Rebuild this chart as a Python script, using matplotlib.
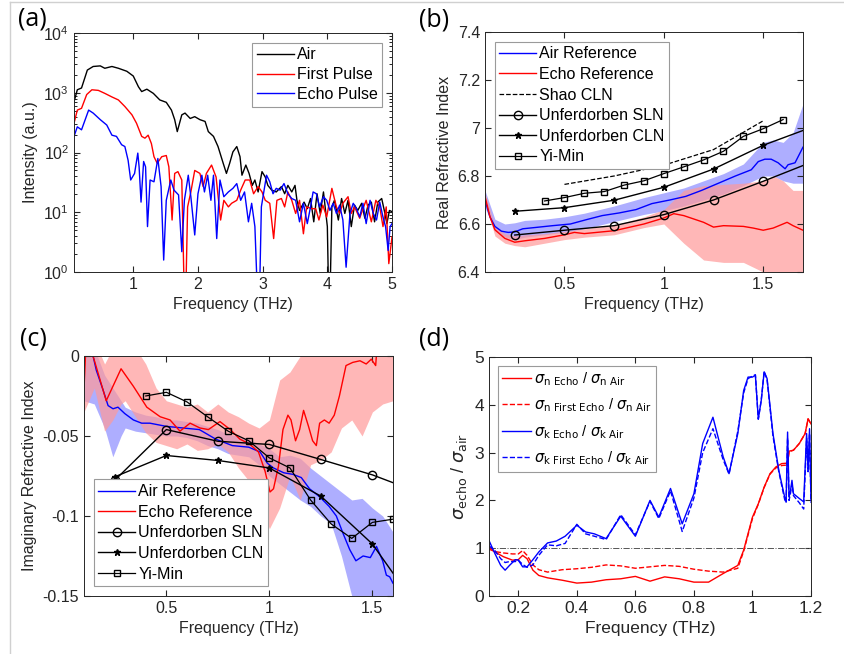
import numpy as np
import matplotlib.pyplot as plt
from matplotlib.lines import Line2D

plt.rcParams['font.family'] = ['Liberation Sans', 'DejaVu Sans']
plt.rcParams['mathtext.fontset'] = 'dejavusans'

# ---------------- (a) spectra, log10 of intensity ----------------
air_f = [0.084, 0.135, 0.2, 0.29, 0.38, 0.49, 0.56, 0.67, 0.77, 0.90, 1.0, 1.08, 1.13, 1.21, 1.31,
         1.41, 1.51, 1.59, 1.64, 1.68, 1.75, 1.80, 1.88, 1.95, 2.03, 2.11, 2.16, 2.24, 2.31, 2.39,
         2.44, 2.49, 2.54, 2.60, 2.65, 2.68, 2.74, 2.79, 2.84, 2.88, 2.93, 2.99, 3.04, 3.08, 3.14,
         3.21, 3.29, 3.34, 3.39, 3.45, 3.50, 3.53, 3.57, 3.64, 3.69, 3.74, 3.79, 3.84, 3.89, 3.94,
         4.00, 4.03, 4.07, 4.11, 4.17, 4.22, 4.27, 4.32, 4.37, 4.42, 4.47, 4.53, 4.58, 4.63, 4.68,
         4.73, 4.78, 4.84, 4.89, 4.92, 4.96, 5.0]
air_log = [2.85, 3.05, 3.08, 3.38, 3.44, 3.45, 3.41, 3.44, 3.41, 3.36, 3.28, 3.10, 3.02, 3.06, 2.99,
           2.88, 2.84, 2.71, 2.55, 2.35, 2.63, 2.66, 2.57, 2.60, 2.55, 2.52, 2.35, 2.27, 2.10, 1.82,
           1.65, 1.82, 2.01, 2.10, 1.93, 1.62, 1.79, 1.65, 1.45, 1.54, 1.34, 1.68, 1.59, 1.45, 1.37,
           1.34, 1.43, 1.31, 1.45, 1.34, 1.45, 1.20, 1.03, 1.17, 1.06, 1.23, 0.84, 1.31, 0.98, 1.34,
           0.76, -1.0, 1.09, 1.20, 0.87, 1.23, 0.98, 1.20, 0.76, 1.12, 1.03, 1.15, 0.90, 1.12, 1.17,
           0.84, 1.17, 1.23, 0.98, 0.81, 1.03, 1.01]

first_f = [0.084, 0.135, 0.2, 0.28, 0.36, 0.46, 0.56, 0.67, 0.77, 0.87, 0.98, 1.05, 1.13, 1.18, 1.23,
           1.28, 1.32, 1.37, 1.44, 1.51, 1.55, 1.60, 1.64, 1.69, 1.75, 1.80, 1.84, 1.89, 1.95, 2.03,
           2.08, 2.13, 2.21, 2.28, 2.35, 2.40, 2.47, 2.52, 2.60, 2.66, 2.73, 2.80, 2.86, 2.93, 2.99,
           3.04, 3.11, 3.17, 3.22, 3.29, 3.34, 3.39, 3.45, 3.51, 3.57, 3.63, 3.68, 3.76, 3.82, 3.87,
           3.93, 3.99, 4.07, 4.14, 4.19, 4.24, 4.32, 4.37, 4.42, 4.50, 4.55, 4.60, 4.68, 4.75, 4.81,
           4.86, 4.91, 4.95, 5.0]
first_log = [2.49, 2.71, 2.74, 2.97, 3.05, 3.04, 2.99, 2.93, 2.88, 2.77, 2.63, 2.49, 2.27, 2.24, 2.29,
             2.15, 1.93, 1.82, 1.93, 1.95, 1.76, 0.87, 1.65, 1.68, 1.54, -1.0, 1.09, 1.34, 1.70, 1.65,
             1.43, 1.65, 1.79, 1.59, 0.87, 1.20, 1.09, 1.15, 1.20, 1.37, 1.54, 1.54, 1.31, 1.43, 1.34,
             1.20, 1.15, 0.56, 1.20, 1.23, 1.09, 1.34, 1.20, 0.98, 1.20, 0.64, 1.09, 1.06, 1.06, 0.87,
             1.12, 0.92, 1.40, 1.09, 0.98, 1.15, 1.26, 0.98, 1.09, 0.90, 1.06, 1.20, 0.84, 1.20, 1.09,
             0.76, 1.09, 0.14, 0.59]

echo_f = [0.084, 0.135, 0.2, 0.31, 0.38, 0.49, 0.59, 0.67, 0.74, 0.82, 0.87, 0.92, 0.96, 1.02, 1.07,
          1.09, 1.12, 1.16, 1.19, 1.22, 1.26, 1.32, 1.38, 1.43, 1.47, 1.51, 1.58, 1.63, 1.70, 1.75,
          1.79, 1.85, 1.89, 1.95, 2.00, 2.06, 2.10, 2.15, 2.20, 2.24, 2.29, 2.34, 2.40, 2.47, 2.54,
          2.60, 2.66, 2.72, 2.78, 2.83, 2.88, 2.94, 2.98, 3.06, 3.11, 3.16, 3.21, 3.27, 3.33, 3.39,
          3.45, 3.51, 3.57, 3.63, 3.69, 3.74, 3.78, 3.83, 3.88, 3.94, 3.99, 4.04, 4.09, 4.14, 4.19,
          4.24, 4.29, 4.35, 4.40, 4.45, 4.50, 4.55, 4.60, 4.66, 4.71, 4.76, 4.81, 4.86, 4.90, 4.94,
          4.97, 5.0]
echo_log = [2.27, 2.43, 2.38, 2.71, 2.66, 2.55, 2.46, 2.29, 2.27, 2.13, 2.10, 1.87, 1.54, 1.65, 1.99,
            1.76, 1.17, 1.85, 1.76, 0.76, 1.54, 1.51, 1.90, 1.43, 0.20, 1.20, 1.54, 1.37, 1.29, 0.34,
            1.20, 1.62, 1.26, 0.62, 1.31, 1.62, 1.34, 1.62, 1.20, 1.62, 0.56, 1.54, 1.26, 1.34, 1.40,
            1.48, 1.20, 1.34, 0.84, 1.15, 0.76, -1.0, 1.09, 1.62, 1.51, 1.31, 1.40, 1.37, 1.48, 1.31,
            1.23, 1.20, 0.84, 1.15, 0.81, 1.09, 1.34, 1.31, 1.09, 1.26, 1.20, 1.03, 1.15, 0.98, 1.12,
            0.87, 0.08, 0.98, 1.15, 1.06, 0.92, 1.15, 0.81, 1.20, 0.98, 0.87, 1.17, 0.92, 0.76, 0.36,
            0.76, 0.81]

# ---------------- (b) real refractive index ----------------
nb_air_f = [0.1, 0.125, 0.15, 0.183, 0.217, 0.25, 0.29, 0.36, 0.44, 0.53, 0.61, 0.69, 0.775, 0.86, 0.94,
            1.03, 1.11, 1.19, 1.275, 1.36, 1.44, 1.475, 1.508, 1.54, 1.575, 1.61, 1.625, 1.66, 1.7]
nb_air = [6.70, 6.63, 6.59, 6.57, 6.565, 6.567, 6.58, 6.586, 6.593, 6.60, 6.618, 6.635, 6.646, 6.66,
          6.685, 6.70, 6.715, 6.74, 6.77, 6.80, 6.826, 6.86, 6.87, 6.87, 6.855, 6.83, 6.847, 6.855, 6.92]
band_b_f = [0.1, 0.15, 0.2, 0.25, 0.3, 0.4, 0.5, 0.6, 0.75, 0.9, 1.0, 1.1, 1.2, 1.3, 1.4, 1.5, 1.55,
            1.6, 1.65, 1.7]
nb_air_hi = [6.74, 6.62, 6.60, 6.605, 6.615, 6.62, 6.63, 6.645, 6.675, 6.71, 6.73, 6.75, 6.78, 6.81,
             6.85, 6.94, 6.95, 6.94, 6.98, 7.10]
nb_air_lo = [6.67, 6.57, 6.545, 6.535, 6.545, 6.555, 6.565, 6.58, 6.61, 6.64, 6.655, 6.675, 6.70,
             6.725, 6.76, 6.80, 6.80, 6.78, 6.77, 6.77]

nb_echo_f = [0.1, 0.125, 0.15, 0.2, 0.25, 0.3, 0.4, 0.5, 0.55, 0.6, 0.75, 0.9, 1.0, 1.05, 1.1, 1.2,
             1.25, 1.3, 1.4, 1.45, 1.5, 1.55, 1.62, 1.65, 1.7]
nb_echo = [6.715, 6.63, 6.576, 6.54, 6.524, 6.53, 6.54, 6.555, 6.565, 6.56, 6.572, 6.60, 6.625, 6.643,
           6.635, 6.607, 6.587, 6.593, 6.59, 6.583, 6.574, 6.583, 6.607, 6.593, 6.574]
nb_echo_hi = [6.73, 6.59, 6.56, 6.55, 6.555, 6.56, 6.57, 6.58, 6.595, 6.63, 6.66, 6.74, 6.76, 6.765,
              6.77, 6.78, 6.80, 6.78, 6.74, 6.74]
nb_echo_lo = [6.69, 6.55, 6.52, 6.51, 6.505, 6.52, 6.535, 6.545, 6.555, 6.585, 6.60, 6.52, 6.45,
              6.44, 6.44, 6.40, 6.39, 6.39, 6.39, 6.39]

shao_f = [0.5, 0.75, 1.0, 1.25, 1.5]
shao_n = [6.765, 6.80, 6.845, 6.91, 7.03]
unf_f = [0.25, 0.5, 0.75, 1.0, 1.25, 1.5, 1.75]
unf_sln_n = [6.554, 6.574, 6.593, 6.639, 6.70, 6.778, 6.86]
unf_cln_n = [6.653, 6.668, 6.699, 6.753, 6.829, 6.928, 7.005]
yimin_f = [0.4, 0.5, 0.6, 0.7, 0.8, 0.9, 1.0, 1.1, 1.2, 1.3, 1.4, 1.5, 1.6]
yimin_n = [6.696, 6.71, 6.728, 6.735, 6.762, 6.78, 6.81, 6.838, 6.867, 6.903, 6.965, 6.997, 7.035]

# ---------------- (c) imaginary refractive index ----------------
kc_air_f = [0.144, 0.16, 0.192, 0.217, 0.241, 0.265, 0.298, 0.34, 0.38, 0.42, 0.50, 0.58, 0.66, 0.74,
            0.82, 0.90, 0.955, 0.99, 1.02, 1.07, 1.115, 1.155, 1.195, 1.244, 1.29, 1.325, 1.358, 1.39,
            1.42, 1.455, 1.49, 1.52, 1.55, 1.568, 1.584, 1.6]
kc_air = [0.0, -0.009, -0.021, -0.031, -0.033, -0.032, -0.036, -0.040, -0.042, -0.042, -0.044, -0.045,
          -0.046, -0.052, -0.056, -0.057, -0.060, -0.067, -0.070, -0.073, -0.074, -0.076, -0.083,
          -0.088, -0.094, -0.100, -0.111, -0.121, -0.128, -0.125, -0.126, -0.119, -0.128, -0.137,
          -0.138, -0.142]
band_c_f = [0.1, 0.15, 0.2, 0.24, 0.28, 0.3, 0.35, 0.4, 0.45, 0.5, 0.55, 0.6, 0.65, 0.7, 0.75, 0.8,
            0.85, 0.9, 0.95, 1.0, 1.05, 1.1, 1.15, 1.2, 1.25, 1.3, 1.35, 1.4, 1.45, 1.5, 1.55, 1.6]
kc_air_hi = [0.01, 0.005, -0.012, -0.02, -0.028, -0.032, -0.035, -0.037, -0.038, -0.040, -0.040,
             -0.041, -0.042, -0.044, -0.046, -0.049, -0.050, -0.052, -0.055, -0.058, -0.063, -0.062,
             -0.064, -0.070, -0.075, -0.080, -0.085, -0.090, -0.089, -0.095, -0.100, -0.110]
kc_air_lo = [-0.028, -0.030, -0.045, -0.063, -0.050, -0.045, -0.047, -0.048, -0.049, -0.050, -0.050,
             -0.051, -0.053, -0.056, -0.058, -0.061, -0.062, -0.063, -0.068, -0.075, -0.080, -0.085,
             -0.090, -0.094, -0.100, -0.105, -0.125, -0.150, -0.160, -0.160, -0.160, -0.160]

kc_echo_f = [0.1, 0.108, 0.144, 0.208, 0.28, 0.34, 0.405, 0.47, 0.518, 0.566, 0.615, 0.663, 0.704,
             0.76, 0.81, 0.857, 0.904, 0.947, 0.979, 1.003, 1.02, 1.044, 1.066, 1.09, 1.105, 1.127,
             1.147, 1.166, 1.19, 1.21, 1.228, 1.244, 1.267, 1.29, 1.315, 1.34, 1.372, 1.405, 1.44,
             1.47, 1.495, 1.516, 1.52]
kc_echo = [-0.021, 0.002, 0.0, -0.028, -0.008, -0.019, -0.032, -0.038, -0.040, -0.047, -0.042,
           -0.045, -0.046, -0.041, -0.046, -0.052, -0.055, -0.060, -0.072, -0.085, -0.083, -0.069,
           -0.046, -0.037, -0.040, -0.053, -0.046, -0.034, -0.044, -0.053, -0.056, -0.042, -0.040,
           -0.042, -0.037, -0.025, -0.006, -0.004, -0.003, -0.005, -0.002, -0.006, 0.001]
kc_echo_hi = [0.01, 0.01, -0.005, 0.005, 0.01, 0.01, 0.005, -0.005, -0.02, -0.028, -0.030, -0.032,
              -0.030, -0.035, -0.030, -0.035, -0.038, -0.042, -0.045, -0.040, -0.015, -0.010, 0.0,
              0.005, 0.01, 0.01, 0.01, 0.01, 0.01, 0.01, 0.01, 0.01]
kc_echo_lo = [-0.035, -0.020, -0.047, -0.040, -0.030, -0.028, -0.038, -0.048, -0.054, -0.056, -0.058,
              -0.055, -0.059, -0.058, -0.055, -0.060, -0.070, -0.078, -0.090, -0.108, -0.095, -0.075,
              -0.090, -0.068, -0.065, -0.060, -0.045, -0.040, -0.050, -0.035, -0.030, -0.028]

unf_sln_k = [-0.0776, -0.046, -0.0533, -0.0553, -0.0647, -0.0743, -0.0865]
unf_cln_k = [-0.0755, -0.0622, -0.0653, -0.070, -0.0876, -0.1175, -0.163]
yimin_k = [-0.025, -0.0227, -0.0287, -0.038, -0.047, -0.053, -0.0637, -0.070, -0.090, -0.105, -0.114,
           -0.104, -0.102]

# ---------------- (d) sigma ratios ----------------
sd_f = [0.1, 0.12, 0.15, 0.18, 0.2, 0.215, 0.23, 0.25, 0.27, 0.3, 0.35, 0.4, 0.45, 0.5, 0.55, 0.6,
        0.65, 0.7, 0.75, 0.8, 0.85, 0.9, 0.95, 0.97, 1.0, 1.02, 1.04, 1.06, 1.08, 1.1, 1.12, 1.125,
        1.14, 1.16, 1.18, 1.19, 1.2]
sn_echo = [1.03, 0.92, 0.82, 0.75, 0.76, 0.85, 0.78, 0.54, 0.43, 0.38, 0.33, 0.27, 0.29, 0.34, 0.36,
           0.41, 0.31, 0.40, 0.36, 0.29, 0.29, 0.47, 0.64, 0.96, 1.65, 1.93, 2.28, 2.56, 2.70, 2.77,
           2.78, 3.03, 3.05, 3.19, 3.40, 3.71, 3.60]
sn_first = [0.98, 0.93, 0.90, 0.88, 0.88, 0.95, 0.85, 0.65, 0.55, 0.50, 0.55, 0.57, 0.60, 0.65, 0.63,
            0.58, 0.61, 0.64, 0.62, 0.56, 0.52, 0.50, 0.58, 0.94, 1.62, 1.92, 2.27, 2.55, 2.68, 2.73,
            2.74, 3.02, 3.05, 3.19, 3.40, 3.70, 3.60]
sk_f = [0.1, 0.12, 0.14, 0.155, 0.17, 0.19, 0.2, 0.215, 0.23, 0.25, 0.27, 0.3, 0.33, 0.36, 0.4, 0.43,
        0.46, 0.5, 0.55, 0.6, 0.65, 0.68, 0.72, 0.76, 0.8, 0.83, 0.865, 0.9, 0.92, 0.95, 0.97, 0.985,
        1.0, 1.01, 1.02, 1.03, 1.04, 1.05, 1.07, 1.09, 1.11, 1.115, 1.12, 1.125, 1.13, 1.135, 1.14,
        1.16, 1.175, 1.185, 1.19, 1.195, 1.2]
sk_echo = [1.16, 0.89, 0.64, 0.54, 0.64, 0.76, 0.75, 0.61, 0.61, 0.76, 0.92, 1.11, 1.15, 1.25, 1.48,
           1.34, 1.30, 1.20, 1.67, 1.25, 2.00, 1.65, 2.25, 1.51, 2.14, 3.19, 3.74, 2.91, 2.56, 3.40,
           4.30, 4.58, 4.58, 4.62, 3.70, 4.09, 4.69, 4.55, 3.40, 2.63, 2.07, 1.97, 3.43, 2.07, 2.21,
           2.42, 2.14, 2.04, 1.97, 3.40, 2.63, 3.50, 2.00]
sk_first = [1.05, 0.95, 0.78, 0.70, 0.72, 0.72, 0.75, 0.66, 0.60, 0.65, 0.85, 1.07, 1.05, 1.10, 1.50,
            1.30, 1.25, 1.18, 1.70, 1.28, 1.98, 1.62, 2.20, 1.35, 2.05, 3.00, 3.50, 2.85, 2.55, 3.45,
            4.25, 4.55, 4.60, 4.63, 3.70, 4.10, 4.70, 4.52, 3.35, 2.60, 2.02, 1.95, 3.30, 2.00, 2.15,
            2.35, 2.10, 1.95, 1.82, 3.30, 2.60, 3.40, 1.95]

# ---------------- figure ----------------
fig = plt.figure(figsize=(8.44, 6.54), dpi=100)
dark = '#262626'
frame_grey = '#9a9a9a'
blue_fill = (0.55, 0.55, 1.0)
red_fill = (1.0, 0.6, 0.6)
FS = 11.5


def style(ax, size=FS):
    ax.tick_params(direction='in', top=True, right=True, labelsize=size, colors=dark, length=4)
    ax.tick_params(which='minor', direction='in', top=True, right=True, length=2)
    for s in ax.spines.values():
        s.set_color(dark)
        s.set_linewidth(0.7)


def legend(ax, loc, handles=None, size=FS, spacing=0.35, hlen=2.3):
    kw = {} if handles is None else {'handles': handles}
    lg = ax.legend(loc=loc, fontsize=size, fancybox=False, framealpha=1, edgecolor=frame_grey,
                   handlelength=hlen, handletextpad=0.2, borderpad=0.3, labelspacing=spacing,
                   borderaxespad=0.6, **kw)
    lg.get_frame().set_linewidth(0.8)
    return lg


# (a)
ax_a = fig.add_axes([0.0877, 0.5841, 0.3768, 0.3654])
ax_a.plot(air_f, 10 ** np.array(air_log), color='k', lw=1, label='Air')
ax_a.plot(first_f, 10 ** np.array(first_log), color='r', lw=1, label='First Pulse')
ax_a.plot(echo_f, 10 ** np.array(echo_log), color='b', lw=1, label='Echo Pulse')
ax_a.set_yscale('log')
ax_a.set_xlim(0.084, 5)
ax_a.set_ylim(1, 1e4)
ax_a.set_xticks([1, 2, 3, 4, 5])
ax_a.set_xlabel('Frequency (THz)', fontsize=FS, color=dark)
ax_a.set_ylabel('Intensity (a.u.)', fontsize=FS, color=dark)
style(ax_a)
legend(ax_a, 'upper right', spacing=0.3)

# (b)
ax_b = fig.add_axes([0.5746, 0.5841, 0.3768, 0.367])
ax_b.fill_between(band_b_f, nb_air_lo, nb_air_hi, color=blue_fill, alpha=0.7, lw=0)
ax_b.fill_between(band_b_f, nb_echo_lo, nb_echo_hi, color=red_fill, alpha=0.7, lw=0)
ax_b.plot(nb_air_f, nb_air, color='b', lw=1)
ax_b.plot(nb_echo_f, nb_echo, color='r', lw=1)
ax_b.plot(shao_f, shao_n, 'k--', lw=0.9)
ax_b.plot(unf_f, unf_sln_n, 'k-', marker='o', mfc='none', ms=6, lw=1)
ax_b.plot(unf_f, unf_cln_n, 'k-', marker='*', ms=5, lw=1)
ax_b.plot(yimin_f, yimin_n, 'k-', marker='s', mfc='none', ms=5, lw=0.9)
ax_b.set_xlim(0.1, 1.7)
ax_b.set_ylim(6.4, 7.4)
ax_b.set_xticks([0.5, 1, 1.5])
ax_b.set_xticklabels(['0.5', '1', '1.5'])
ax_b.set_yticks([6.4, 6.6, 6.8, 7.0, 7.2, 7.4])
ax_b.set_yticklabels(['6.4', '6.6', '6.8', '7', '7.2', '7.4'])
ax_b.set_xlabel('Frequency (THz)', fontsize=FS, color=dark)
ax_b.set_ylabel('Real Refractive Index', fontsize=FS, color=dark)
style(ax_b)
hb = [Line2D([], [], color='b', lw=1, label='Air Reference'),
      Line2D([], [], color='r', lw=1, label='Echo Reference'),
      Line2D([], [], color='k', ls='--', lw=0.9, label='Shao CLN'),
      Line2D([], [], color='k', marker='o', mfc='none', ms=6, lw=1, label='Unferdorben SLN'),
      Line2D([], [], color='k', marker='*', ms=5, lw=1, label='Unferdorben CLN'),
      Line2D([], [], color='k', marker='s', mfc='none', ms=5, lw=0.9, label='Yi-Min')]
legend(ax_b, 'upper left', handles=hb)

# (c)
ax_c = fig.add_axes([0.0995, 0.0887, 0.3661, 0.367])
ax_c.fill_between(band_c_f, kc_air_lo, kc_air_hi, color=blue_fill, alpha=0.7, lw=0)
ax_c.fill_between(band_c_f, kc_echo_lo, kc_echo_hi, color=red_fill, alpha=0.7, lw=0)
ax_c.plot(kc_air_f, kc_air, color='b', lw=1)
ax_c.plot(kc_echo_f, kc_echo, color='r', lw=1)
ax_c.plot(unf_f, unf_sln_k, 'k-', marker='o', mfc='none', ms=6, lw=1)
ax_c.plot(unf_f, unf_cln_k, 'k-', marker='*', ms=5, lw=1)
ax_c.plot(yimin_f, yimin_k, 'k-', marker='s', mfc='none', ms=5, lw=0.9)
ax_c.set_xlim(0.1, 1.6)
ax_c.set_ylim(-0.15, 0)
ax_c.set_xticks([0.5, 1, 1.5])
ax_c.set_xticklabels(['0.5', '1', '1.5'])
ax_c.set_yticks([-0.15, -0.1, -0.05, 0])
ax_c.set_yticklabels(['-0.15', '-0.1', '-0.05', '0'])
ax_c.set_xlabel('Frequency (THz)', fontsize=FS, color=dark)
ax_c.set_ylabel('Imaginary Refractive Index', fontsize=FS, color=dark)
style(ax_c)
legend(ax_c, 'lower left', handles=[hb[0], hb[1], hb[3], hb[4], hb[5]])

# (d)
ax_d = fig.add_axes([0.5794, 0.0887, 0.3815, 0.3654])
ax_d.axhline(1, color='#555555', ls='-.', lw=0.7)
ax_d.plot(sd_f, sn_echo, color='r', lw=1,
          label=r'$\sigma_{\mathrm{n\ Echo}}$ / $\sigma_{\mathrm{n\ Air}}$')
ax_d.plot(sd_f, sn_first, color='r', ls='--', lw=1,
          label=r'$\sigma_{\mathrm{n\ First\ Echo}}$ / $\sigma_{\mathrm{n\ Air}}$')
ax_d.plot(sk_f, sk_echo, color='b', lw=1,
          label=r'$\sigma_{\mathrm{k\ Echo}}$ / $\sigma_{\mathrm{k\ Air}}$')
ax_d.plot(sk_f, sk_first, color='b', ls='--', lw=1,
          label=r'$\sigma_{\mathrm{k\ First\ Echo}}$ / $\sigma_{\mathrm{k\ Air}}$')
ax_d.set_xlim(0.1, 1.2)
ax_d.set_ylim(0, 5)
ax_d.set_xticks([0.2, 0.4, 0.6, 0.8, 1.0, 1.2])
ax_d.set_xticklabels(['0.2', '0.4', '0.6', '0.8', '1', '1.2'])
ax_d.set_xlabel('Frequency (THz)', fontsize=12.5, color=dark)
ax_d.set_ylabel(r'$\sigma_{\mathrm{echo}}$ / $\sigma_{\mathrm{air}}$', fontsize=13, color=dark)
style(ax_d, size=12.5)
legend(ax_d, 'upper left', size=10.5, spacing=0.6, hlen=2.0)

# panel letters
for x, y, t in [(0.021, 0.971, '(a)'), (0.497, 0.969, '(b)'), (0.024, 0.481, '(c)'),
                (0.497, 0.481, '(d)')]:
    fig.text(x, y, t, fontsize=18, color='k', family=['Open Sans', 'DejaVu Sans'], va='center')

# light frame seen on left and top of the picture
fig.add_artist(Line2D([0.012, 0.012], [0, 0.997], color='#d0d0d0', lw=1))
fig.add_artist(Line2D([0.012, 1.0], [0.997, 0.997], color='#d0d0d0', lw=1))

fig.savefig('out.png', dpi=100)
